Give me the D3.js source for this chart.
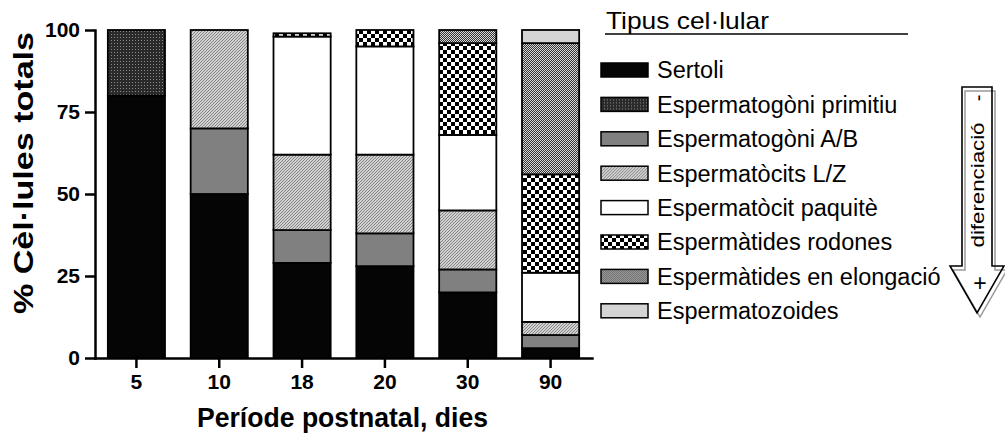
<!DOCTYPE html>
<html>
<head>
<meta charset="utf-8">
<script src="https://cdn.jsdelivr.net/npm/d3@7"></script>
<style>
  body { margin: 0; background: #fff; }
  svg text { font-family: "Liberation Sans", Arial, sans-serif; }
  .axis text { font-size: 21px; font-weight: bold; fill: #000; }
  .axis path, .axis line { stroke: #000; stroke-width: 2.5px; }
</style>
</head>
<body>
<div id="chart"></div>
<script>
// period (days) and cell types
const periods = ["5", "10", "18", "20", "30", "90"];
const cellTypes = ["Sertoli", "Espermatogòni primitiu", "Espermatogòni A/B", "Espermatòcits L/Z",
  "Espermatòcit paquitè", "Espermàtides rodones", "Espermàtides en elongació", "Espermatozoides"];

// % of total cells, one array per cell type (same order as periods)
const sertoli = [80, 50, 29, 28, 20, 3];
const espermatogoniPrimitiu = [20, 0, 0, 0, 0, 0];
const espermatogoniAB = [0, 20, 10, 10, 7, 4];
const espermatocitsLZ = [0, 30, 23, 24, 18, 4];
const espermatocitPaquite = [0, 0, 36, 33, 23, 15];
const espermatidesRodones = [0, 0, 1, 5, 28, 30];
const espermatidesElongacio = [0, 0, 0, 0, 4, 40];
const espermatozoides = [0, 0, 0, 0, 0, 4];

const yTicks = [0, 25, 50, 75, 100];

const seriesValues = [sertoli, espermatogoniPrimitiu, espermatogoniAB, espermatocitsLZ,
  espermatocitPaquite, espermatidesRodones, espermatidesElongacio, espermatozoides];

const fills = ["#050505", "url(#pat-prim)", "#808080", "url(#pat-hatch)", "#fff",
  "url(#pat-check)", "url(#pat-fine)", "#d4d4d4"];

let vis = {};
vis.margin = { top: 30, left: 95 };
vis.width = 497;
vis.height = 328;

vis.svg = d3.select("#chart").append("svg")
  .attr("width", 1005)
  .attr("height", 436);

// patterns
let defs = vis.svg.append("defs");

let prim = defs.append("pattern").attr("id", "pat-prim")
  .attr("patternUnits", "userSpaceOnUse").attr("width", 3).attr("height", 3);
prim.append("rect").attr("width", 3).attr("height", 3).attr("fill", "#2a2a2a");
prim.append("rect").attr("x", 1).attr("y", 1).attr("width", 1).attr("height", 1).attr("fill", "#8a8a8a");

let hatch = defs.append("pattern").attr("id", "pat-hatch")
  .attr("patternUnits", "userSpaceOnUse").attr("width", 3).attr("height", 3);
hatch.append("rect").attr("width", 3).attr("height", 3).attr("fill", "#f2f2f2");
hatch.append("path").attr("d", "M-1,4 L4,-1 M-1,1 L1,-1 M2,4 L4,2")
  .attr("stroke", "#808080").attr("stroke-width", 1.1);

let check = defs.append("pattern").attr("id", "pat-check")
  .attr("patternUnits", "userSpaceOnUse").attr("width", 8).attr("height", 8);
check.append("rect").attr("width", 8).attr("height", 8).attr("fill", "#fff");
check.append("rect").attr("width", 4).attr("height", 4).attr("fill", "#000");
check.append("rect").attr("x", 4).attr("y", 4).attr("width", 4).attr("height", 4).attr("fill", "#000");

let fine = defs.append("pattern").attr("id", "pat-fine")
  .attr("patternUnits", "userSpaceOnUse").attr("width", 2).attr("height", 2);
fine.append("rect").attr("width", 2).attr("height", 2).attr("fill", "#d8d8d8");
fine.append("rect").attr("width", 1).attr("height", 1).attr("fill", "#333");
fine.append("rect").attr("x", 1).attr("y", 1).attr("width", 1).attr("height", 1).attr("fill", "#333");

vis.g = vis.svg.append("g")
  .attr("transform", "translate(" + vis.margin.left + "," + vis.margin.top + ")");

// scales
vis.x = d3.scaleBand()
  .domain(periods)
  .range([0, vis.width])
  .paddingInner(0.31)
  .paddingOuter(0.155);

vis.y = d3.scaleLinear()
  .domain([0, 100])
  .range([vis.height, 0]);

// stack data
let rows = periods.map(function(p, i) {
  let row = { period: p };
  cellTypes.forEach(function(c, j) { row[c] = seriesValues[j][i]; });
  return row;
});
vis.stack = d3.stack().keys(cellTypes);
vis.displayData = vis.stack(rows);

let layers = vis.g.selectAll(".layer")
  .data(vis.displayData)
  .enter().append("g")
  .attr("class", "layer")
  .attr("fill", function(d, i) { return fills[i]; });

layers.selectAll("rect")
  .data(function(d) { return d.filter(function(e) { return e[1] - e[0] > 0; }); })
  .enter().append("rect")
  .attr("x", function(d) { return vis.x(d.data.period); })
  .attr("width", vis.x.bandwidth())
  .attr("y", function(d) { return vis.y(d[1]); })
  .attr("height", function(d) { return vis.y(d[0]) - vis.y(d[1]); })
  .attr("stroke", "#000")
  .attr("stroke-width", 1.8);

// axes
vis.xAxis = d3.axisBottom(vis.x).tickSizeInner(10).tickSizeOuter(0).tickPadding(6);
vis.yAxis = d3.axisLeft(vis.y).tickValues(yTicks).tickSizeInner(10).tickSizeOuter(0).tickPadding(5);

vis.g.append("g")
  .attr("class", "x-axis axis")
  .attr("transform", "translate(0," + vis.height + ")")
  .call(vis.xAxis);

vis.g.append("g")
  .attr("class", "y-axis axis")
  .call(vis.yAxis);

vis.g.selectAll(".axis .domain").attr("stroke-linecap", "square");

// axis titles
vis.g.append("text")
  .attr("x", vis.width / 2 - 1)
  .attr("y", vis.height + 69)
  .attr("text-anchor", "middle")
  .attr("textLength", 291)
  .attr("lengthAdjust", "spacingAndGlyphs")
  .style("font-size", "27px")
  .style("font-weight", "bold")
  .text("Període postnatal, dies");

vis.g.append("text")
  .attr("transform", "translate(-62,143) rotate(-90)")
  .attr("text-anchor", "middle")
  .attr("textLength", 282)
  .attr("lengthAdjust", "spacingAndGlyphs")
  .style("font-size", "28px")
  .style("font-weight", "bold")
  .text("% Cèl·lules totals");

// legend
let legend = vis.svg.append("g").attr("transform", "translate(600,0)");

legend.append("text")
  .attr("x", 6)
  .attr("y", 29)
  .attr("textLength", 163)
  .attr("lengthAdjust", "spacingAndGlyphs")
  .style("font-size", "24px")
  .text("Tipus cel·lular");

legend.append("line")
  .attr("x1", 5).attr("x2", 308)
  .attr("y1", 34).attr("y2", 34)
  .attr("stroke", "#000").attr("stroke-width", 1.5);

let items = legend.selectAll(".item")
  .data(cellTypes)
  .enter().append("g")
  .attr("class", "item")
  .attr("transform", function(d, i) { return "translate(0," + (70 + i * 34.4) + ")"; });

items.append("rect")
  .attr("x", 1).attr("y", -7)
  .attr("width", 47).attr("height", 14)
  .attr("fill", function(d, i) { return fills[i]; })
  .attr("stroke", "#000").attr("stroke-width", 1.5);

items.append("text")
  .attr("x", 57)
  .attr("dy", "0.36em")
  .style("font-size", "23.5px")
  .text(function(d) { return d; });

// differentiation arrow
let arrow = vis.svg.append("g");
let arrowPath = "M962,87 L992,87 L992,266 L1004,266 L977,313 L950,266 L962,266 Z";
arrow.append("path").attr("d", arrowPath)
  .attr("transform", "translate(3,4)")
  .attr("fill", "none").attr("stroke", "#999").attr("stroke-width", 1.5);
arrow.append("path").attr("d", arrowPath)
  .attr("fill", "none").attr("stroke", "#000").attr("stroke-width", 1.6);

arrow.append("text")
  .attr("transform", "translate(985,98) rotate(-90)")
  .attr("text-anchor", "middle")
  .style("font-size", "20px")
  .text("-");

arrow.append("text")
  .attr("transform", "translate(984,185) rotate(-90)")
  .attr("text-anchor", "middle")
  .attr("textLength", 125)
  .attr("lengthAdjust", "spacingAndGlyphs")
  .style("font-size", "19px")
  .text("diferenciació");

arrow.append("text")
  .attr("x", 980).attr("y", 291)
  .attr("text-anchor", "middle")
  .style("font-size", "23px")
  .text("+");
</script>
</body>
</html>
